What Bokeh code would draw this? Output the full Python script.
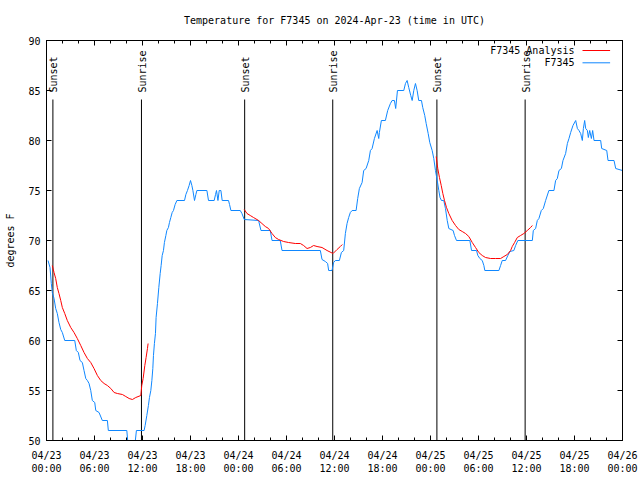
import math
from bokeh.plotting import figure
from bokeh.models import FixedTicker, LinearAxis, CustomLabelingPolicy
from bokeh.core.properties import value
from bokeh.embed import file_html
from bokeh.resources import INLINE

FONT = "DejaVu Sans Mono"
BLUE = "#0f87ff"
RED = "#ff0000"

# ---------------- data ----------------
# hours since 2024-04-23 00:00 UTC
tick_hours = [0, 6, 12, 18, 24, 30, 36, 42, 48, 54, 60, 66, 72]
tick_labels = ["04/23\n00:00", "04/23\n06:00", "04/23\n12:00", "04/23\n18:00",
               "04/24\n00:00", "04/24\n06:00", "04/24\n12:00", "04/24\n18:00",
               "04/25\n00:00", "04/25\n06:00", "04/25\n12:00", "04/25\n18:00",
               "04/26\n00:00"]
minor_hours = list(range(0, 73, 2))
y_ticks = [50, 55, 60, 65, 70, 75, 80, 85, 90]

sun_hours = [0.8, 11.87, 24.77, 35.78, 48.8, 59.83]
sun_labels = ["Sunset", "Sunrise", "Sunset", "Sunrise", "Sunset", "Sunrise"]

obs_hours = [0.19, 0.44, 0.60, 0.73, 0.94, 1.15, 1.35, 1.56, 1.78, 1.98, 2.28, 3.53, 3.73, 3.98,
             4.19, 4.48, 4.69, 4.91, 5.11, 5.32, 5.53, 5.73, 6.03, 6.16, 6.57, 6.98, 7.61, 7.73,
             10.04, 10.20, 11.04, 11.24, 12.20, 12.33, 12.54, 12.74, 12.87, 13.04, 13.17, 13.29,
             13.37, 13.49, 13.62, 13.70, 13.87, 14.04, 14.21, 14.33, 14.46, 14.62, 14.74, 14.92,
             15.04, 15.24, 15.37, 15.54, 15.71, 15.87, 16.08, 16.30, 17.25, 17.42, 17.62, 17.83,
             18.00, 18.17, 18.30, 18.50, 18.67, 18.80, 20.05, 20.25, 20.96, 21.13, 21.25, 21.43,
             21.59, 21.80, 21.96, 22.75, 22.88, 23.05, 24.22, 24.43, 24.72, 26.51, 26.81, 27.97,
             28.19, 29.22, 29.44, 34.23, 34.44, 34.86, 35.14, 35.27, 35.69, 35.89, 36.11, 36.61,
             36.86, 37.15, 37.36, 37.57, 37.77, 37.98, 38.20, 38.70, 38.90, 39.11, 39.45, 39.65,
             39.95, 40.28, 40.49, 40.70, 40.99, 41.33, 41.53, 41.61, 41.86, 42.36, 42.65, 42.99,
             43.20, 43.49, 43.65, 43.87, 44.66, 44.87, 45.08, 45.28, 45.53, 45.71, 45.91, 46.12,
             46.33, 46.53, 46.87, 47.03, 47.28, 47.46, 47.71, 47.91, 48.21, 48.41, 48.62, 48.84,
             49.04, 49.19, 49.37, 49.66, 49.87, 50.09, 50.29, 50.83, 51.00, 51.25, 52.92, 53.13,
             53.75, 53.92, 54.17, 54.47, 54.67, 54.79, 56.55, 56.76, 56.97, 57.38, 57.67, 57.92,
             58.42, 58.64, 58.92, 60.73, 60.85, 61.14, 61.35, 61.55, 61.85, 62.10, 62.39, 62.80,
             63.43, 63.64, 63.85, 64.06, 64.36, 64.56, 64.89, 65.11, 65.31, 65.52, 65.81, 66.15,
             66.36, 66.56, 66.77, 66.98, 67.11, 67.27, 67.40, 67.61, 67.73, 67.90, 68.11, 68.27,
             68.44, 69.27, 69.40, 70.03, 70.19, 70.94, 71.15, 71.99]
obs_temps = [68.0, 67.3, 65.7, 64.8, 64.2, 63.2, 62.7, 61.8, 61.1, 60.8, 60.0, 60.0, 59.0, 58.8,
             58.0, 57.8, 57.0, 56.2, 56.0, 55.7, 55.0, 54.0, 53.8, 53.0, 52.8, 52.0, 52.0, 51.0,
             51.0, 49.5, 49.5, 51.0, 51.0, 51.5, 52.5, 53.5, 54.3, 55.0, 56.0, 57.2,
             58.5, 59.7, 60.7, 62.3, 63.7, 65.3, 66.7, 67.5, 68.5, 69.0, 69.8, 70.5,
             71.0, 71.3, 71.8, 72.3, 72.8, 73.0, 73.6, 74.0, 74.0, 74.6, 75.0, 75.5,
             76.0, 75.5, 75.0, 74.0, 74.6, 75.0, 75.0, 74.0, 74.0, 74.6, 75.0, 74.0,
             75.0, 75.0, 74.0, 74.0, 73.6, 73.0, 73.0, 72.7, 72.1, 72.0, 71.0, 71.0,
             70.0, 70.0, 69.0, 69.0, 68.1, 67.9, 67.7, 67.0, 67.0, 67.8, 68.0, 68.0,
             68.8, 69.0, 70.7, 71.7, 72.3, 72.8, 73.0, 73.0, 74.2, 75.2, 75.8, 77.0,
             77.2, 78.0, 79.0, 79.2, 80.2, 81.0, 80.2, 80.8, 82.0, 82.0, 83.0, 83.7,
             84.0, 84.0, 83.2, 85.0, 85.0, 85.7, 86.0, 85.3, 84.5, 84.0, 85.0, 85.7,
             85.0, 84.0, 84.0, 83.3, 82.5, 81.7, 80.7, 79.8, 79.0, 78.2, 77.0, 76.0,
             75.0, 74.3, 74.0, 74.0, 73.2, 72.0, 71.2, 71.0, 70.5, 70.0, 70.0, 69.0,
             69.0, 68.5, 68.2, 68.0, 67.5, 67.0, 67.0, 67.5, 68.0, 68.0, 68.5, 68.9,
             69.0, 69.5, 70.0, 70.0, 71.0, 71.2, 72.0, 72.2, 73.0, 73.2, 74.0, 75.0,
             75.0, 76.0, 76.2, 77.0, 77.2, 78.0, 78.7, 79.7, 80.2, 80.8, 81.5, 82.0,
             81.2, 81.0, 80.7, 80.0, 81.2, 82.0, 81.2, 81.0, 80.3, 81.0, 80.2, 81.0,
             80.0, 80.0, 79.2, 79.0, 78.0, 78.0, 77.2, 77.0]

ana1_hours = [0.73, 0.94, 1.15, 1.35, 1.56, 1.78, 1.98, 2.28, 2.60, 3.03, 3.44, 3.85, 4.28, 4.69,
              5.11, 5.53, 5.94, 6.36, 6.78, 7.20, 7.61, 8.04, 8.45, 8.86, 9.49, 9.91, 10.33,
              10.74, 11.16, 11.79, 11.91, 12.08, 12.29, 12.45, 12.62, 12.70]
ana1_temps = [67.5, 66.8, 66.2, 65.3, 64.7, 64.0, 63.3, 62.7, 62.0, 61.3, 60.8, 60.2, 59.5, 58.8,
              58.2, 57.8, 57.2, 56.5, 56.0, 55.7, 55.5, 55.2, 54.8, 54.7, 54.6, 54.4, 54.2,
              54.1, 54.3, 54.5, 55.5, 56.2, 57.5, 58.3, 59.2, 59.7]
ana2_hours = [24.72, 25.06, 25.47, 25.88, 26.51, 26.93, 27.35, 27.76, 28.19, 28.60, 29.01, 29.64,
              30.26, 31.10, 31.73, 32.14, 32.57, 32.98, 33.39, 33.82, 34.44, 35.07, 35.57, 35.82,
              36.32, 36.73, 36.98]
ana2_temps = [73.1, 72.7, 72.5, 72.3, 72.0, 71.7, 71.4, 71.2, 70.7, 70.3, 70.1, 69.9,
              69.8, 69.7, 69.7, 69.5, 69.2, 69.3, 69.5, 69.4, 69.3, 69.0, 68.8, 68.7,
              69.1, 69.4, 69.6]
ana3_hours = [48.71, 48.91, 49.12, 49.34, 49.54, 49.75, 50.00, 50.29, 50.71, 51.13, 51.54, 51.97,
              52.38, 52.79, 53.22, 53.63, 54.04, 54.47, 54.88, 55.51, 56.13, 56.76, 57.17, 57.60,
              58.01, 58.22, 58.51, 58.85, 59.26, 59.67, 60.10, 60.51, 60.73]
ana3_temps = [78.4, 77.2, 76.3, 75.5, 74.7, 74.0, 73.3, 72.7, 72.0, 71.5, 71.1, 70.9,
              70.7, 70.4, 69.8, 69.3, 68.8, 68.5, 68.3, 68.2, 68.2, 68.2, 68.4, 68.6,
              69.0, 69.4, 69.8, 70.3, 70.5, 70.7, 71.0, 71.3, 71.5]

legend_labels = ["F7345 Analysis", "F7345"]

# ---------------- figure ----------------
p = figure(width=640, height=480, x_range=(0, 72), y_range=(50, 90),
           output_backend="svg", toolbar_location=None,
           min_border_left=46, min_border_right=18, min_border_top=40, min_border_bottom=40)
p.grid.visible = False
p.outline_line_color = "black"
p.outline_line_width = 1
p.background_fill_color = "white"
p.border_fill_color = "white"

p.title.text = "Temperature for F7345 on 2024-Apr-23 (time in UTC)"
p.title.align = "center"
p.title.text_font = FONT
p.title.text_font_size = "10px"
p.title.text_font_style = "normal"
p.title.text_color = "black"
p.title.standoff = 22

xt = FixedTicker(ticks=tick_hours, minor_ticks=minor_hours)
yt = FixedTicker(ticks=y_ticks, minor_ticks=[])


def style(ax, minor_in):
    ax.major_tick_in = 5
    ax.major_tick_out = 0
    ax.minor_tick_in = minor_in
    ax.minor_tick_out = 0
    ax.axis_line_color = "black"
    ax.major_tick_line_color = "black"
    ax.minor_tick_line_color = "black"
    ax.major_label_text_font = FONT
    ax.major_label_text_font_size = "10px"
    ax.major_label_text_color = "black"


xa = p.xaxis[0]
xa.ticker = xt
xa.major_label_overrides = {h: l for h, l in zip(tick_hours, tick_labels)}
style(xa, 3)
xa.major_label_standoff = 9
xa.major_label_text_line_height = 1.25

ya = p.yaxis[0]
ya.ticker = yt
style(ya, 0)
ya.major_label_standoff = 6
ya.axis_label = "degrees F"
ya.axis_label_text_font = FONT
ya.axis_label_text_font_size = "10px"
ya.axis_label_text_font_style = "normal"
ya.axis_label_text_color = "black"
ya.axis_label_standoff = 9

top = LinearAxis(ticker=xt)
style(top, 3)
top.major_label_text_font_size = "1px"
top.major_label_standoff = 0
top.major_label_policy = CustomLabelingPolicy(code="return new Set()")
p.add_layout(top, "above")

right = LinearAxis(ticker=yt)
style(right, 0)
right.major_label_text_font_size = "1px"
right.major_label_standoff = 0
right.major_label_policy = CustomLabelingPolicy(code="return new Set()")
p.add_layout(right, "right")

# sunrise / sunset markers
p.segment(x0=sun_hours, y0=[50] * len(sun_hours), x1=sun_hours, y1=[84.1] * len(sun_hours),
          line_color="black", line_width=1)
p.text(x=sun_hours, y=[84.8] * len(sun_hours), text=sun_labels, angle=math.pi / 2,
       x_offset=1, text_align="left", text_baseline="middle",
       text_font=value(FONT), text_font_size="10px", text_color="black")

# data
p.line(obs_hours, obs_temps, line_color=BLUE, line_width=1)
for hs, ts in [(ana1_hours, ana1_temps), (ana2_hours, ana2_temps), (ana3_hours, ana3_temps)]:
    p.line(hs, ts, line_color=RED, line_width=1)

# key (text right-aligned, sample line to the right, like gnuplot)
key_x_text = 66.0
key_x0, key_x1 = 67.0, 70.45
key_y = [89.0, 87.77]
p.text(x=[key_x_text] * 2, y=key_y, text=legend_labels, text_align="right",
       text_baseline="middle", text_font=value(FONT), text_font_size="10px", text_color="black")
p.segment(x0=[key_x0] * 2, y0=key_y, x1=[key_x1] * 2, y1=key_y,
          line_color=[RED, BLUE], line_width=1)

open("out.html", "w").write(file_html(p, INLINE))
